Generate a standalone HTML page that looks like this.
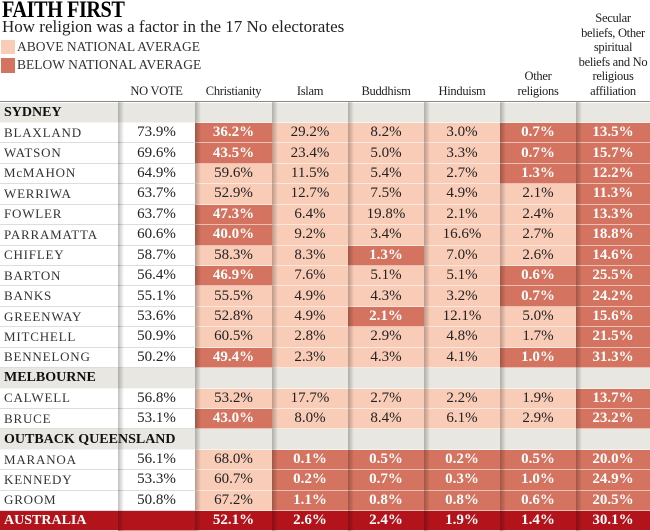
<!DOCTYPE html>
<html><head><meta charset="utf-8">
<style>
body{margin:0;width:650px;height:531px;overflow:hidden;background:#fff;font-family:"Liberation Serif",serif;position:relative}
.a{position:absolute}
.cell{position:absolute;display:flex;align-items:center;justify-content:center;font-size:15px;color:#222;box-sizing:border-box;border-bottom:1px solid rgba(255,255,255,0.55);white-space:nowrap}
.dk{color:#fff;font-weight:bold}
.sep{position:absolute;width:6px;background:linear-gradient(to right,rgba(0,0,0,0.25),rgba(0,0,0,0))}
.hd{position:absolute;font-size:12.5px;color:#222;text-align:center;line-height:14.5px;white-space:nowrap;letter-spacing:-0.3px}
</style></head><body>
<div class="a" style="left:2px;top:-3px;font-size:23px;font-weight:bold;letter-spacing:-0.5px;transform:scaleX(0.88);transform-origin:left">FAITH FIRST</div>
<div class="a" style="left:2px;top:17px;font-size:17px;color:#222">How religion was a factor in the 17 No electorates</div>
<div class="a" style="left:1px;top:40px;width:14px;height:14px;background:#f9ccb8"></div>
<div class="a" style="left:17px;top:39px;font-size:13.5px;color:#333">ABOVE NATIONAL AVERAGE</div>
<div class="a" style="left:1px;top:58px;width:14px;height:15px;background:#d4735f"></div>
<div class="a" style="left:17px;top:57px;font-size:13.5px;color:#333">BELOW NATIONAL AVERAGE</div>
<div id="t"></div>
<script>
const columns=["NO VOTE","Christianity","Islam","Buddhism","Hinduism","Other<br>religions","Secular<br>beliefs, Other<br>spiritual<br>beliefs and No<br>religious<br>affiliation"];
const groups=["SYDNEY","MELBOURNE","OUTBACK QUEENSLAND"];
const electorates=[["BLAXLAND",0],["WATSON",0],["McMAHON",0],["WERRIWA",0],["FOWLER",0],["PARRAMATTA",0],["CHIFLEY",0],["BARTON",0],["BANKS",0],["GREENWAY",0],["MITCHELL",0],["BENNELONG",0],["CALWELL",1],["BRUCE",1],["MARANOA",2],["KENNEDY",2],["GROOM",2]];
const noVote=[73.9,69.6,64.9,63.7,63.7,60.6,58.7,56.4,55.1,53.6,50.9,50.2,56.8,53.1,56.1,53.3,50.8];
const christianity=[36.2,43.5,59.6,52.9,47.3,40.0,58.3,46.9,55.5,52.8,60.5,49.4,53.2,43.0,68.0,60.7,67.2];
const islam=[29.2,23.4,11.5,12.7,6.4,9.2,8.3,7.6,4.9,4.9,2.8,2.3,17.7,8.0,0.1,0.2,1.1];
const buddhism=[8.2,5.0,5.4,7.5,19.8,3.4,1.3,5.1,4.3,2.1,2.9,4.3,2.7,8.4,0.5,0.7,0.8];
const hinduism=[3.0,3.3,2.7,4.9,2.1,16.6,7.0,5.1,3.2,12.1,4.8,4.1,2.2,6.1,0.2,0.3,0.8];
const otherRel=[0.7,0.7,1.3,2.1,2.4,2.7,2.6,0.6,0.7,5.0,1.7,1.0,1.9,2.9,0.5,1.0,0.6];
const secular=[13.5,15.7,12.2,11.3,13.3,18.8,14.6,25.5,24.2,15.6,21.5,31.3,13.7,23.2,20.0,24.9,20.5];
const national=[52.1,2.6,2.4,1.9,1.4,30.1];
// shading as printed in the source graphic ("B" = below national average)
const shading=["BLLLBB","BLLLBB","LLLLBB","LLLLLB","BLLLLB","BLLLLB","LLBLLB","BLLLBB","LLLLBB","LLBLLB","LLLLLB","BLLLBB","LLLLLB","BLLLLB","LBBBBB","LBBBBB","LBBBBB"];
const series=[christianity,islam,buddhism,hinduism,otherRel,secular];

const colX=[118,195,272,348,424,500,576,650];
const top0=102.5,rh=20.43;
const T=document.getElementById('t');
function add(tag,cls,style,html){const e=document.createElement(tag);e.className=cls;e.style.cssText=style;if(html!==undefined)e.innerHTML=html;T.appendChild(e);return e;}
columns.forEach((c,i)=>{
  const e=add('div','hd',`left:${colX[i]}px;width:${colX[i+1]-colX[i]}px;bottom:${531-98}px`,c);
  
  
});
add('div','a','left:0;top:101px;width:650px;height:1px;background:#888');
const rows=[];
let g=-1;
electorates.forEach((el,i)=>{ if(el[1]!==g){g=el[1];rows.push({group:groups[g]});} rows.push({i}); });
rows.push({aus:true});
rows.forEach((row,k)=>{
  const y=top0+k*rh,h=(k===rows.length-1)?531-y:rh;
  if(row.group){
    add('div','cell',`left:0;top:${y}px;width:650px;height:${h}px;background:#e8e7e1`);
    const n=add('div','cell',`left:0;top:${y}px;width:250px;height:${h}px;justify-content:flex-start;padding-left:4px;font-weight:bold;font-size:14px;color:#111;z-index:5;border:none`,row.group);
    
    
  } else if(row.aus){
    add('div','cell',`left:0;top:${y}px;width:650px;height:${h}px;background:#b3141c`);
    const n=add('div','cell dk',`left:0;top:${y}px;width:118px;height:${h}px;justify-content:flex-start;padding-left:4px;font-size:14px;z-index:5`,'AUSTRALIA');
    
    
    national.forEach((v,c)=>{const b=add('div','cell dk',`left:${colX[c+1]}px;top:${y}px;width:${colX[c+2]-colX[c+1]}px;height:${h}px;z-index:1`,v.toFixed(1)+'%');
      
      });
  } else {
    const i=row.i;
    const n=add('div','cell',`left:0;top:${y}px;width:118px;height:${h}px;justify-content:flex-start;padding-left:4px;font-size:13px;letter-spacing:0.8px;color:#333;border-bottom:1px solid #ddd`,electorates[i][0]);
    
    
    const nv=add('div','cell',`left:${colX[0]}px;top:${y}px;width:77px;height:${h}px;border-bottom:1px solid #ddd`,noVote[i].toFixed(1)+'%');
    
    
    series.forEach((s,c)=>{
      const below=shading[i][c]==='B';
      const b=add('div','cell'+(below?' dk':''),`left:${colX[c+1]}px;top:${y}px;width:${colX[c+2]-colX[c+1]}px;height:${h}px;background:${below?'#d4735f':'#f9ccb8'}`,s[i].toFixed(1)+'%');
      
      
    });
  }
});
for(let c=0;c<7;c++){add('div','sep',`left:${colX[c]}px;top:102px;height:${531-102}px;z-index:3`);}
</script>
</body></html>
